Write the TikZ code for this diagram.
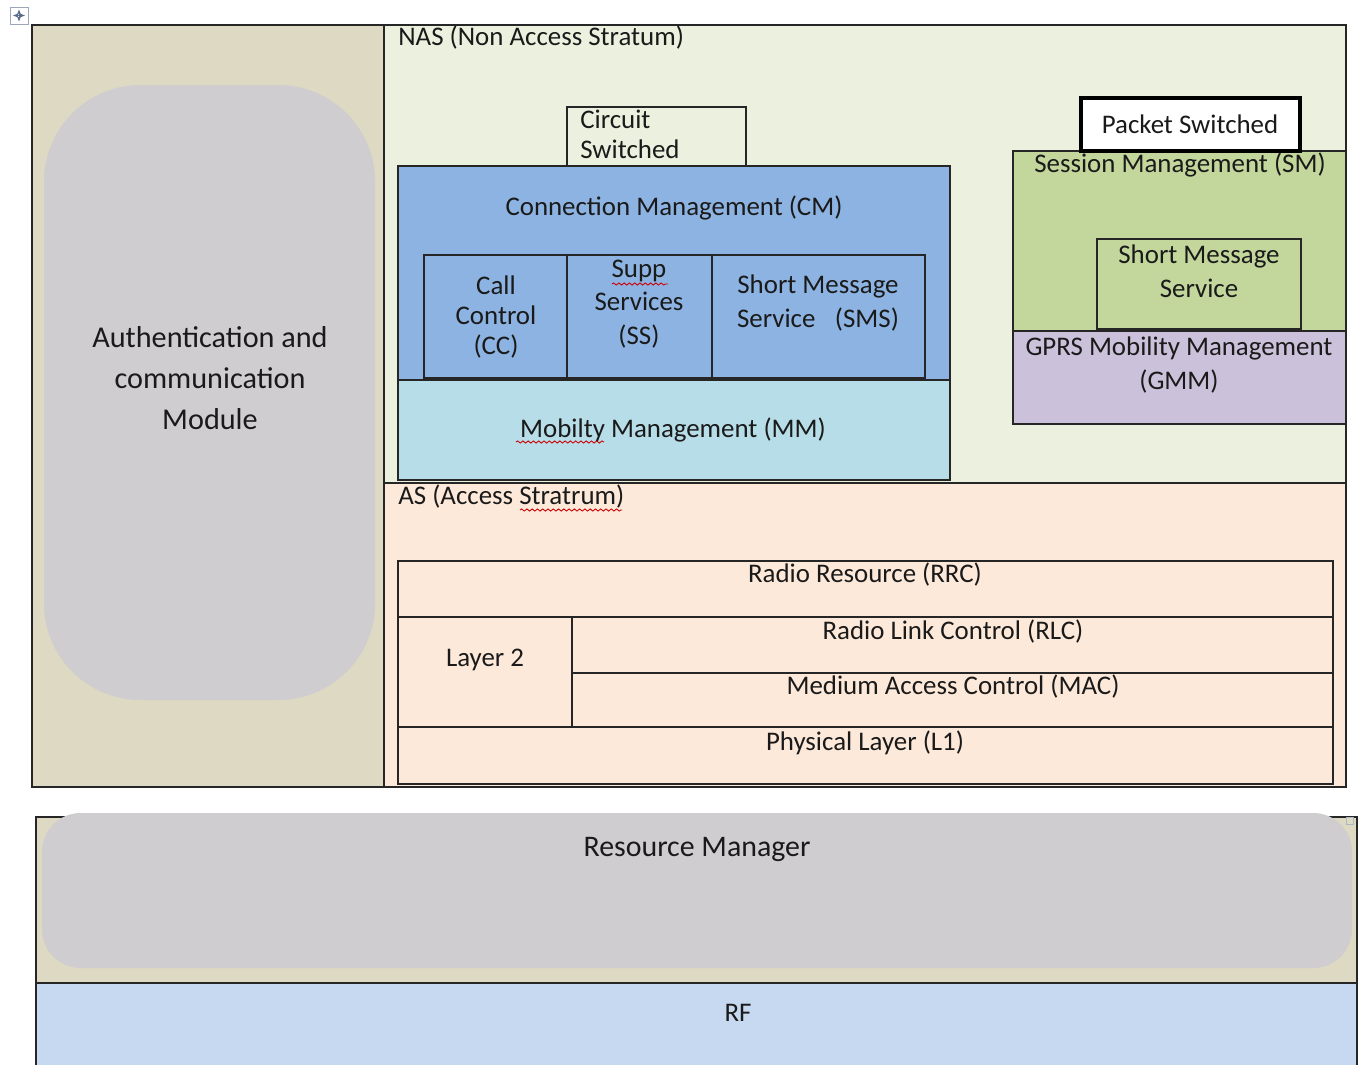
\documentclass[tikz,border=0pt]{standalone}
\usepackage{fontspec}
\setmainfont{Carlito}
\usetikzlibrary{arrows.meta,decorations.pathmorphing}
\definecolor{lvlTan}{HTML}{DDD9C3}
\definecolor{lvlGrey}{HTML}{CFCDCF}
\definecolor{lvlNasFill}{HTML}{EBF1DE}
\definecolor{lvlAsFill}{HTML}{FDE9D9}
\definecolor{lvlCmFill}{HTML}{8DB3E2}
\definecolor{lvlMmFill}{HTML}{B7DDE8}
\definecolor{lvlSmFill}{HTML}{C3D69B}
\definecolor{lvlGmmFill}{HTML}{CCC1DA}
\definecolor{lvlRfFill}{HTML}{C6D9F1}
\definecolor{lvlLine}{HTML}{262626}
\definecolor{lvlText}{HTML}{1A1A1A}
\definecolor{lvlIcon}{HTML}{5A6E8C}

\begin{document}
\begin{tikzpicture}[
  x=0.2mm, y=-0.2mm,
  font=\fontsize{15.3}{17}\selectfont,
  box/.style={draw=lvlLine, line width=0.7pt},
  heavyBox/.style={draw=black, line width=1.8pt, fill=white},
  blob/.style={fill=lvlGrey, rounded corners=55},
  lbl/.style={inner sep=0pt, align=center, text=lvlText},
  bigLbl/.style={lbl, font=\fontsize{17.2}{23.2}\selectfont},
  spellMark/.style={draw=red!80!black, line width=0.5pt,
    decorate, decoration={snake, amplitude=0.6pt, segment length=3pt}}
]
  \useasboundingbox (0,0) rectangle (1362,1065);

  % table handle
  \draw[draw=lvlIcon!60, fill=white, line width=0.4pt] (10,7) rectangle (28,24);
  \draw[lvlIcon, line width=0.5pt, {Stealth[length=1.2mm]}-{Stealth[length=1.2mm]}] (13,15.5) -- (25,15.5);
  \draw[lvlIcon, line width=0.5pt, {Stealth[length=1.2mm]}-{Stealth[length=1.2mm]}] (19,9.5) -- (19,21.5);

  % upper block
  \fill[lvlTan] (32,25) rectangle (384,787);
  \fill[lvlNasFill] (384,25) rectangle (1346,483);
  \fill[lvlAsFill] (384,483) rectangle (1346,787);
  \draw[box] (32,25) rectangle (1346,787);
  \draw[box] (384,25) -- (384,787);
  \draw[box] (384,483) -- (1346,483);

  \fill[blob] (44,85) rectangle (375,700);
  \node[bigLbl] (auth) at (210,378) {Authentication and\\communication\\Module};

  % NAS
  \node[lbl, anchor=west] (nas) at (398,38) {NAS (Non Access Stratum)};

  \draw[box, fill=lvlNasFill] (567,107) rectangle (746,166);
  \node[lbl, anchor=north west, align=left] (cs) at (580,110) {Circuit\\Switched};

  \draw[box, fill=lvlCmFill] (398,166) rectangle (950,380);
  \node[lbl] (cm) at (674,208) {Connection Management (CM)};
  \draw[box] (424,255) rectangle (925,378);
  \draw[box] (567,255) -- (567,378);
  \draw[box] (712,255) -- (712,378);
  \node[lbl] (cc) at (496,317) {Call\\Control\\(CC)};
  \node[lbl, font=\fontsize{15.3}{19}\selectfont] (ss) at (639,304) {Supp\\Services\\(SS)};
  \node[lbl, font=\fontsize{15.3}{19.5}\selectfont] (sms) at (818,303) {Short Message\\Service\enspace\ (SMS)};
  \draw[spellMark] (612,284) -- (668,284);

  \draw[box, fill=lvlMmFill] (398,380) rectangle (950,480);
  \node[lbl] (mm) at (673,430) {Mobilty Management (MM)};
  \draw[spellMark] (516,442) -- (604,442);

  \draw[box, fill=lvlSmFill] (1013,151) rectangle (1346,331);
  \node[lbl] (sm) at (1180,165) {Session Management (SM)};
  \draw[box] (1097,239) rectangle (1301,329);
  \node[lbl, font=\fontsize{15.3}{19.5}\selectfont] (smsPs) at (1199,271) {Short Message\\Service};

  \draw[box, fill=lvlGmmFill] (1013,331) rectangle (1346,424);
  \node[lbl, font=\fontsize{15.3}{19.5}\selectfont] (gmm) at (1179,365) {GPRS Mobility Management\\(GMM)};

  \draw[heavyBox] (1081,98) rectangle (1300,151);
  \node[lbl] (ps) at (1190,124) {Packet Switched};

  % AS
  \node[lbl, anchor=west] (as) at (398,497) {AS (Access Stratrum)};
  \draw[spellMark] (520,510) -- (622,510);

  \draw[box] (398,561) rectangle (1333,784);
  \draw[box] (398,617) -- (1333,617);
  \draw[box] (572,673) -- (1333,673);
  \draw[box] (398,727) -- (1333,727);
  \draw[box] (572,617) -- (572,727);
  \node[lbl] (rrc) at (865,575) {Radio Resource (RRC)};
  \node[lbl] (l2) at (485,660) {Layer 2};
  \node[lbl] (rlc) at (953,632) {Radio Link Control (RLC)};
  \node[lbl] (mac) at (953,687) {Medium Access Control (MAC)};
  \node[lbl] (phy) at (865,743) {Physical Layer (L1)};

  % lower block
  \fill[lvlTan] (36,817) rectangle (1357,983);
  \fill[lvlRfFill] (36,983) rectangle (1357,1065);
  \draw[box] (36,1065) -- (36,817) -- (1357,817) -- (1357,1065);
  \draw[box] (36,983) -- (1357,983);
  \fill[blob, rounded corners=22] (42,813) rectangle (1352,968);
  \draw[draw=lvlIcon!50, line width=0.4pt] (1346,817) rectangle (1353,824);
  \node[lbl, font=\fontsize{17}{20}\selectfont] (rm) at (697,849) {Resource Manager};
  \node[lbl] (rf) at (738,1013) {RF};
\end{tikzpicture}
\end{document}
